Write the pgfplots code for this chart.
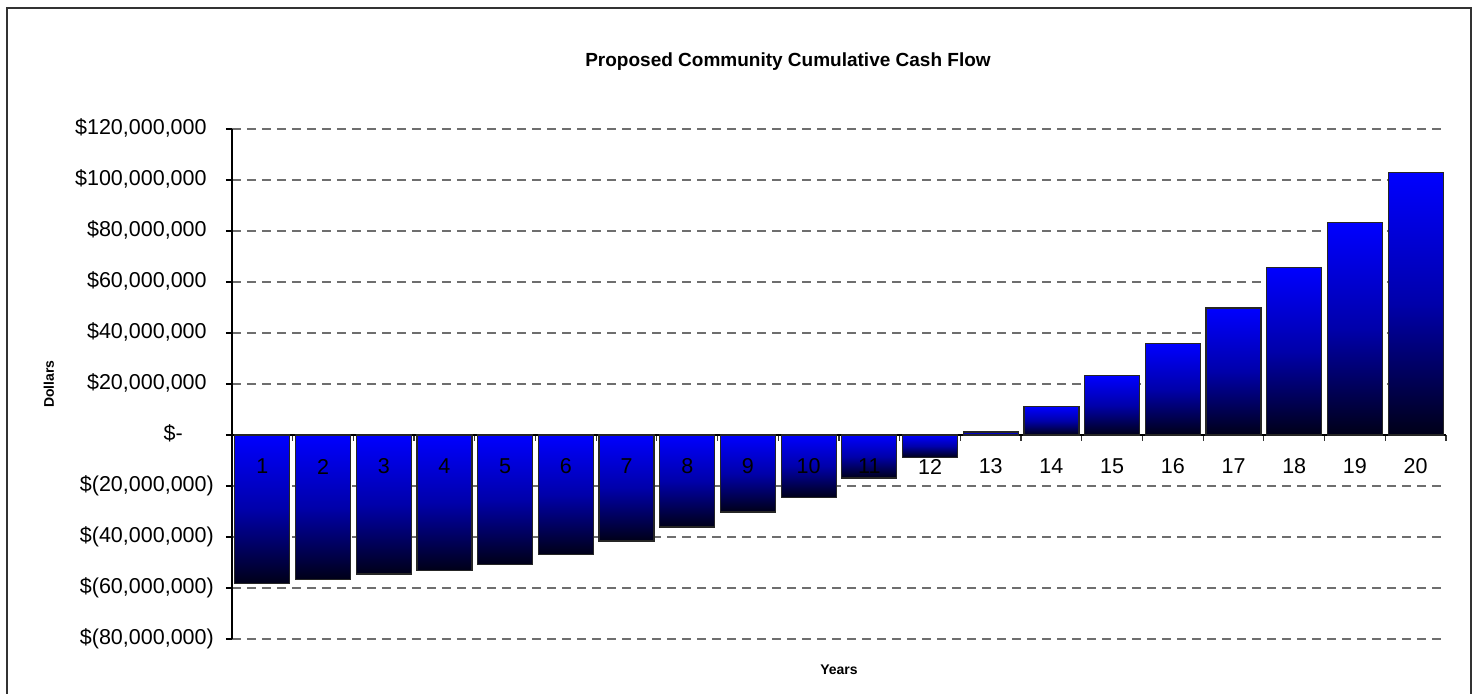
\documentclass[border=0pt]{standalone}
\usepackage{pgfplots}
\usepackage{pgfplotstable}
\pgfplotsset{compat=1.18}
\usepackage{fontspec}
\setmainfont{Liberation Sans}

\definecolor{gridgray}{RGB}{110,110,110}
\definecolor{barblue}{RGB}{0,0,255}
\definecolor{barmid}{RGB}{0,0,170}
\definecolor{bardark}{RGB}{0,0,24}
\definecolor{framegray}{RGB}{50,50,50}

% cumulative cash flow, millions of dollars
\pgfplotstableread{
year value
1  -58.3
2  -56.7
3  -54.5
4  -53.1
5  -50.7
6  -46.8
7  -41.6
8  -36.1
9  -30.2
10 -24.5
11 -16.9
12 -8.7
13 1.2
14 11.1
15 23.2
16 35.8
17 49.8
18 65.7
19 83.2
20 102.8
}\cashflow

\pgfplotsset{
  cashbar/.style={ybar, bar width=0.906, bar shift=0pt, draw=black!85,
    line width=1.2bp, top color=barblue, bottom color=bardark,
    middle color=barmid},
}

\begin{document}
\begin{tikzpicture}
\useasboundingbox (-232bp,-55bp) rectangle (1246bp,639bp);
\draw[line width=2bp, framegray] (-225bp,-80bp) rectangle (1239bp,631bp);
\begin{axis}[
  at={(0,0)}, anchor=south west,
  scale only axis, width=1214bp, height=510bp,
  xmin=0.5, xmax=20.5, ymin=-80, ymax=120,
  axis x line*=middle, axis y line*=left,
  axis line style={black, line width=1.2bp},
  xtick={1,...,20}, xticklabels={},
  minor xtick={0.5,1.5,...,20.5},
  major x tick style={draw=none},
  minor x tick style={black!80, line width=1.2bp},
  xtick align=outside, ytick align=outside,
  major tick length=6bp, minor tick length=6bp,
  ytick={-80,-60,...,120},
  yticklabels={{\$(80,000,000)},{\$(60,000,000)},{\$(40,000,000)},{\$(20,000,000)},
    {\$-\phantom{00)}},{\$20,000,000\phantom{)}},{\$40,000,000\phantom{)}},
    {\$60,000,000\phantom{)}},{\$80,000,000\phantom{)}},{\$100,000,000\phantom{)}},
    {\$120,000,000\phantom{)}}},
  major y tick style={black, line width=1.2bp},
  tick label style={font=\fontsize{21.5bp}{24bp}\selectfont},
  yticklabel style={anchor=east, inner sep=0pt, xshift=-12bp},
  /pgf/number format/assume math mode=true,
  ymajorgrids,
  major grid style={gridgray, dash pattern=on 9bp off 6bp, line width=1.2bp},
  title={Proposed Community Cumulative Cash Flow},
  title style={font=\bfseries\fontsize{19bp}{22bp}\selectfont,
    at={(axis description cs:0.458,1.121)}, anchor=center},
  xlabel={Years},
  xlabel style={font=\bfseries\fontsize{14bp}{16bp}\selectfont,
    at={(axis description cs:0.5,0)}, anchor=center, yshift=-31bp},
  ylabel={Dollars},
  ylabel style={font=\bfseries\fontsize{14bp}{16bp}\selectfont,
    at={(axis description cs:0,0.5)}, anchor=center, yshift=183bp},
]
% one plot per bar so that each bar gets its own vertical shading
\pgfplotsinvokeforeach{1,...,20}{
  \addplot[cashbar, restrict x to domain=#1:#1]
    table[x=year, y=value] {\cashflow};
}
% year numbers written along the zero line, over the bars
\addplot[draw=none, point meta=x, nodes near coords,
  nodes near coords style={anchor=center, inner sep=0pt, yshift=-31.5bp,
    font=\fontsize{21.5bp}{24bp}\selectfont}]
  table[x=year, y expr=0] {\cashflow};
\end{axis}
\end{tikzpicture}
\end{document}
